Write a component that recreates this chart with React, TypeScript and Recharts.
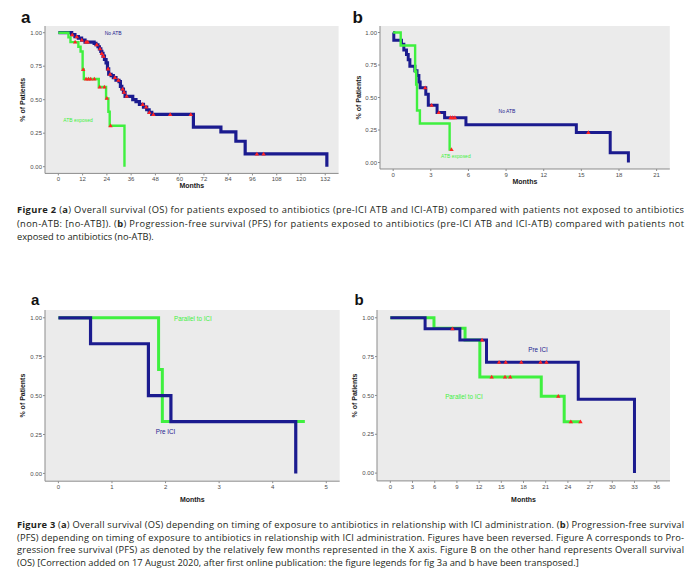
import type React from 'react'
import { CartesianGrid, ComposedChart, Line, ReferenceDot, XAxis, YAxis } from 'recharts'

const NAVY = '#1b1b8f'
const GREEN = '#3ff03f'
const RED = '#ff2424'
const AXIS = '#8c8c8c'
const PANEL_BG = '#ebebeb'
const ARIAL = "'Liberation Sans', Arial, sans-serif"
const CAPTION_FONT = "'Open Sans', 'DejaVu Sans', sans-serif"

const yTicks = [0, 0.25, 0.5, 0.75, 1]

// Figure 2a - overall survival, no ATB vs ATB exposed
const os2Ticks = [0, 12, 24, 36, 48, 60, 72, 84, 96, 108, 120, 132]
const os2NoAtbMonths = [0, 6.6, 8.2, 9.9, 11.5, 13.2, 17.7, 18.6, 19.6, 20.3, 21, 21.5, 22.1, 22.8, 23.6, 24.3, 24.9, 26.1, 27.2, 28.5, 30, 30.7, 31.4, 32.2, 33, 36.8, 38.4, 40.1, 42.1, 43.7, 44.9, 46.2, 66.8, 80.4, 87.8, 92.4, 132.8]
const os2NoAtbSurv = [1, 0.985, 0.97, 0.96, 0.945, 0.93, 0.92, 0.91, 0.895, 0.88, 0.86, 0.845, 0.825, 0.8, 0.775, 0.73, 0.69, 0.68, 0.665, 0.645, 0.635, 0.6, 0.58, 0.555, 0.525, 0.5, 0.485, 0.465, 0.445, 0.425, 0.405, 0.39, 0.295, 0.26, 0.19, 0.095, 0]
const os2NoAtbCensored = [6.9, 9.1, 11.6, 13.7, 14.5, 19, 20.6, 21.5, 22.3, 24.6, 25.6, 28, 29.7, 31.8, 32.5, 33.8, 41.7, 43.4, 45, 47, 55.3, 65.5, 98.2, 101.5]
const os2AtbMonths = [0, 5, 6, 9.9, 11, 12, 12.6, 20, 23.6, 24.75, 25.4, 32.7]
const os2AtbSurv = [1, 0.965, 0.93, 0.895, 0.86, 0.725, 0.655, 0.595, 0.51, 0.41, 0.305, 0]
const os2AtbCensored = [8.3, 12.3, 13.7, 14.9, 16, 17.8, 20.5, 22.8, 24, 25.8]

// Figure 2b - progression-free survival
const pfs2Ticks = [0, 3, 6, 9, 12, 15, 18, 21]
const pfs2NoAtbMonths = [0, 0.05, 0.66, 0.85, 1.06, 1.2, 1.33, 1.73, 1.9, 2.05, 2.15, 2.6, 2.8, 3.5, 4.1, 5.8, 14.6, 17.3, 18.75]
const pfs2NoAtbSurv = [1, 0.94, 0.91, 0.865, 0.83, 0.79, 0.74, 0.705, 0.67, 0.62, 0.575, 0.525, 0.44, 0.385, 0.345, 0.29, 0.23, 0.075, 0]
const pfs2NoAtbCensored = [2.55, 3.06, 3.64, 4.57, 4.73, 4.92, 15.56]
const pfs2AtbMonths = [0, 0.6, 1.75, 1.83, 1.9, 2.13, 4.5, 4.65]
const pfs2AtbSurv = [1, 0.9, 0.7, 0.6, 0.4, 0.3, 0.1, 0.1]
const pfs2AtbCensored = [4.65]

// Figure 3a - timing of exposure, short follow-up
const fig3aTicks = [0, 1, 2, 3, 4, 5]
const fig3aPreMonths = [0, 0.6, 1.68, 2.1, 4.43]
const fig3aPreSurv = [1, 0.833, 0.5, 0.333, 0]
const fig3aParMonths = [0, 1.87, 1.94, 4.6]
const fig3aParSurv = [1, 0.667, 0.333, 0.333]

// Figure 3b - timing of exposure, long follow-up
const fig3bTicks = [0, 3, 6, 9, 12, 15, 18, 21, 24, 27, 30, 33, 36]
const fig3bPreMonths = [0, 4.7, 9.4, 13, 25.4, 33]
const fig3bPreSurv = [1, 0.929, 0.857, 0.714, 0.476, 0]
const fig3bPreCensored = [8.4, 12.4, 14.7, 15.6, 17.7, 20.3, 21.1]
const fig3bParMonths = [0, 5.9, 10.1, 12.1, 20.4, 23.5, 25.7]
const fig3bParSurv = [1, 0.933, 0.857, 0.619, 0.495, 0.33, 0.33]
const fig3bParCensored = [13.7, 15.5, 16.2, 22.7, 24.4, 25.7]

type Seg = [string, boolean]
const caption2Lines: Seg[][] = [
  [['Figure 2', true], [' (', false], ['a', true], [') Overall survival (OS) for patients exposed to antibiotics (pre-ICI ATB and ICI-ATB) compared with patients not exposed to antibiotics', false]],
  [['(non-ATB: [no-ATB]). (', false], ['b', true], [') Progression-free survival (PFS) for patients exposed to antibiotics (pre-ICI ATB and ICI-ATB) compared with patients not', false]],
  [['exposed to antibiotics (no-ATB).', false]],
]
const caption3Lines: Seg[][] = [
  [['Figure 3', true], [' (', false], ['a', true], [') Overall survival (OS) depending on timing of exposure to antibiotics in relationship with ICI administration. (', false], ['b', true], [') Progression-free survival', false]],
  [['(PFS) depending on timing of exposure to antibiotics in relationship with ICI administration. Figures have been reversed. Figure A corresponds to Pro-', false]],
  [['gression free survival (PFS) as denoted by the relatively few months represented in the X axis. Figure B on the other hand represents Overall survival', false]],
  [['(OS) [Correction added on 17 August 2020, after first online publication: the figure legends for fig 3a and b have been transposed.]', false]],
]

interface Curve {
  months: number[]
  surv: number[]
  censored?: number[]
  color: string
  width: number
}

interface CurveLabel {
  x: number
  y: number
  text: string
  color: string
}

const toPoints = (months: number[], surv: number[]) => months.map((x, i) => ({ x, y: surv[i] }))

// level of the step curve at time t (used to place censor ticks on the curve)
const levelAt = (months: number[], surv: number[], t: number) => {
  let v = surv[0]
  months.forEach((m, i) => {
    if (m <= t) v = surv[i]
  })
  return v
}

const tri = (cx: number, cy: number) => `M${cx},${cy - 2.3}L${cx + 2.2},${cy + 1.5}L${cx - 2.2},${cy + 1.5}Z`

const Y_AXIS_W = 45
const MT = 10
const MR = 6
const X_AXIS_H = 22

const KmPanel: React.FC<{
  box: { x0: number; x1: number; y0: number; y1: number }
  xDomain: [number, number]
  xTicks: number[]
  curves: Curve[]
  labels: CurveLabel[]
  labelSize: number
  yTitleX: number
  monthsBaseline: number
}> = ({ box, xDomain, xTicks, curves, labels, labelSize, yTitleX, monthsBaseline }) => {
  const left = box.x0 - Y_AXIS_W
  const top = box.y0 - MT
  const width = box.x1 - left + MR
  const height = box.y1 - top + X_AXIS_H
  const tickStyle = { fontSize: 6, fill: '#4d4d4d', fontFamily: ARIAL }
  const titleStyle = { fontSize: 7, fontWeight: 700, fill: '#1a1a1a', fontFamily: ARIAL }

  return (
    <div style={{ position: 'absolute', left, top }}>
      <ComposedChart width={width} height={height} margin={{ top: MT, right: MR, left: 0, bottom: 0 }}>
        <CartesianGrid horizontal={false} vertical={false} fill={PANEL_BG} stroke="none" />
        <XAxis
          type="number"
          dataKey="x"
          domain={xDomain}
          ticks={xTicks}
          allowDataOverflow
          interval={0}
          height={X_AXIS_H}
          tickSize={2}
          tickMargin={1.5}
          stroke={AXIS}
          tick={tickStyle}
          label={{
            value: 'Months',
            position: 'insideBottom',
            offset: box.y1 + X_AXIS_H - monthsBaseline,
            style: titleStyle,
          }}
        />
        <YAxis
          type="number"
          domain={[-0.05, 1.05]}
          ticks={yTicks}
          allowDataOverflow
          interval={0}
          width={Y_AXIS_W}
          tickSize={2}
          tickMargin={1}
          stroke={AXIS}
          tick={tickStyle}
          tickFormatter={(v: number) => v.toFixed(2)}
          label={{
            value: '% of Patients',
            angle: -90,
            position: 'insideLeft',
            offset: yTitleX - left,
            style: { ...titleStyle, textAnchor: 'middle' },
          }}
        />
        {curves.map((c, i) => (
          <Line
            key={`curve-${i}`}
            data={toPoints(c.months, c.surv)}
            dataKey="y"
            type="stepAfter"
            stroke={c.color}
            strokeWidth={c.width}
            dot={false}
            activeDot={false}
            isAnimationActive={false}
          />
        ))}
        {curves.map((c, i) =>
          c.censored ? (
            <Line
              key={`censor-${i}`}
              data={c.censored.map(t => ({ x: t, y: levelAt(c.months, c.surv, t) }))}
              dataKey="y"
              stroke="none"
              dot={(p: any) => <path key={`d-${i}-${p.index}`} d={tri(p.cx, p.cy)} fill={RED} />}
              activeDot={false}
              isAnimationActive={false}
            />
          ) : null,
        )}
        {labels.map(l => (
          <ReferenceDot
            key={l.text}
            x={l.x}
            y={l.y}
            r={0}
            fill="none"
            stroke="none"
            label={{ value: l.text, position: 'center', fill: l.color, fontSize: labelSize, fontFamily: ARIAL }}
          />
        ))}
      </ComposedChart>
    </div>
  )
}

const CaptionBlock: React.FC<{ lines: Seg[][]; firstBaseline: number; lineGap: number }> = ({
  lines,
  firstBaseline,
  lineGap,
}) => (
  <>
    {lines.map((line, i) => (
      <text
        key={i}
        x={17}
        y={firstBaseline + i * lineGap}
        fontSize={9.3}
        fontFamily={CAPTION_FONT}
        fill="#231f20"
        style={{ whiteSpace: 'pre' }}
        {...(i < lines.length - 1 ? { textLength: 667, lengthAdjust: 'spacing' } : {})}
      >
        {line.map(([t, b], j) => (
          <tspan key={j} fontWeight={b ? 700 : 400}>
            {t}
          </tspan>
        ))}
      </text>
    ))}
  </>
)

export default function App() {
  return (
    <div
      style={{
        position: 'absolute',
        left: 0,
        top: 0,
        width: 693,
        height: 581,
        background: '#ffffff',
        overflow: 'hidden',
      }}
    >
      <svg width={693} height={581} style={{ position: 'absolute', left: 0, top: 0 }}>
        <g fontFamily={ARIAL} fontWeight={700} fill="#111">
          <text x={21} y={23.3} fontSize={17}>a</text>
          <text x={352.5} y={23.3} fontSize={17}>b</text>
          <text x={31} y={305} fontSize={15}>a</text>
          <text x={354.5} y={305} fontSize={15}>b</text>
        </g>
        <CaptionBlock lines={caption2Lines} firstBaseline={213.2} lineGap={13.5} />
        <CaptionBlock lines={caption3Lines} firstBaseline={528} lineGap={12.6} />
      </svg>

      <KmPanel
        box={{ x0: 45, x1: 338.6, y0: 26, y1: 173.4 }}
        xDomain={[-6.6, 138.6]}
        xTicks={os2Ticks}
        curves={[
          { months: os2NoAtbMonths, surv: os2NoAtbSurv, censored: os2NoAtbCensored, color: NAVY, width: 3.2 },
          { months: os2AtbMonths, surv: os2AtbSurv, censored: os2AtbCensored, color: GREEN, width: 2.4 },
        ]}
        labels={[
          { x: 27.1, y: 0.998, text: 'No ATB', color: NAVY },
          { x: 9.75, y: 0.349, text: 'ATB exposed', color: GREEN },
        ]}
        labelSize={5}
        yTitleX={22.7}
        monthsBaseline={188}
      />
      <KmPanel
        box={{ x0: 380.1, x1: 669.9, y0: 25.8, y1: 168.8 }}
        xDomain={[-1.05, 22.05]}
        xTicks={pfs2Ticks}
        curves={[
          { months: pfs2NoAtbMonths, surv: pfs2NoAtbSurv, censored: pfs2NoAtbCensored, color: NAVY, width: 3 },
          { months: pfs2AtbMonths, surv: pfs2AtbSurv, censored: pfs2AtbCensored, color: GREEN, width: 2.4 },
        ]}
        labels={[
          { x: 9.07, y: 0.395, text: 'No ATB', color: NAVY },
          { x: 5.0, y: 0.048, text: 'ATB exposed', color: GREEN },
        ]}
        labelSize={5}
        yTitleX={358.3}
        monthsBaseline={183.5}
      />
      <KmPanel
        box={{ x0: 45, x1: 339.7, y0: 309.9, y1: 481.1 }}
        xDomain={[-0.25, 5.25]}
        xTicks={fig3aTicks}
        curves={[
          { months: fig3aParMonths, surv: fig3aParSurv, color: GREEN, width: 3 },
          { months: fig3aPreMonths, surv: fig3aPreSurv, color: NAVY, width: 3.2 },
        ]}
        labels={[
          { x: 2.51, y: 0.995, text: 'Parallel to ICI', color: GREEN },
          { x: 2.0, y: 0.267, text: 'Pre ICI', color: NAVY },
        ]}
        labelSize={6.3}
        yTitleX={22.7}
        monthsBaseline={501.8}
      />
      <KmPanel
        box={{ x0: 377, x1: 670, y0: 309.5, y1: 480.4 }}
        xDomain={[-1.8, 37.8]}
        xTicks={fig3bTicks}
        curves={[
          { months: fig3bParMonths, surv: fig3bParSurv, censored: fig3bParCensored, color: GREEN, width: 3 },
          { months: fig3bPreMonths, surv: fig3bPreSurv, censored: fig3bPreCensored, color: NAVY, width: 3 },
        ]}
        labels={[
          { x: 19.96, y: 0.795, text: 'Pre ICI', color: NAVY },
          { x: 9.96, y: 0.49, text: 'Parallel to ICI', color: GREEN },
        ]}
        labelSize={6.3}
        yTitleX={355}
        monthsBaseline={501.8}
      />
    </div>
  )
}
